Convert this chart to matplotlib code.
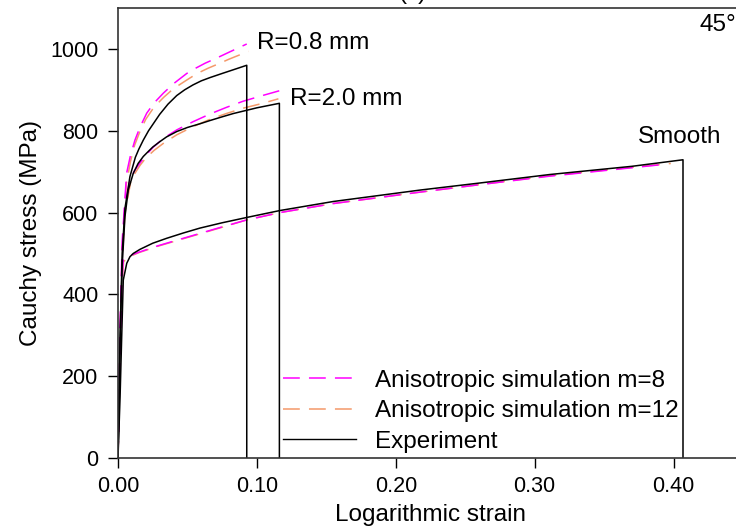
import matplotlib
matplotlib.use("Agg")
import matplotlib.pyplot as plt

plt.rcParams['font.family'] = ['Liberation Sans', 'DejaVu Sans']

# experiment, notched R=0.8 mm
exp08_strain = [0, 0.0015, 0.003, 0.005, 0.0086, 0.0125, 0.015, 0.0182, 0.022, 0.026, 0.030, 0.036, 0.0423,
                0.048, 0.054, 0.060, 0.0663, 0.075, 0.083, 0.0927, 0.0927]
exp08_stress = [0, 300, 500, 610, 688, 735, 755, 777, 800, 820, 840, 865, 886,
                900, 912, 922, 930, 940, 949, 960, 0]

# experiment, notched R=2.0 mm
exp20_strain = [0, 0.0015, 0.003, 0.005, 0.0074, 0.011, 0.0145, 0.0182, 0.022, 0.025, 0.030, 0.035, 0.0423,
                0.050, 0.059, 0.0663, 0.075, 0.083, 0.100, 0.1162, 0.1162]
exp20_stress = [0, 280, 470, 590, 655, 696, 720, 737, 750, 760, 773, 785, 798,
                808, 817, 825, 834, 842, 856, 867, 0]

# experiment, smooth
exps_strain = [0, 0.0015, 0.0026, 0.0038, 0.0063, 0.0086, 0.011, 0.0158, 0.025, 0.035, 0.047, 0.059, 0.075,
               0.0927, 0.1167, 0.155, 0.2176, 0.260, 0.311, 0.370, 0.4068, 0.4068]
exps_stress = [0, 150, 289, 435, 476, 492, 500, 510, 525, 537, 550, 562, 575,
               588, 605, 627, 655, 672, 693, 713, 729, 0]

# simulation m=8
m8_08_strain = [0, 0.0015, 0.003, 0.0062, 0.009, 0.0122, 0.016, 0.0207, 0.026, 0.0327, 0.040, 0.0495, 0.056,
                0.0627, 0.070, 0.080, 0.0927]
m8_08_stress = [0, 320, 530, 696, 740, 777, 810, 843, 868, 892, 915, 940, 953,
                965, 976, 992, 1012]
m8_20_strain = [0, 0.0015, 0.003, 0.005, 0.0086, 0.012, 0.0158, 0.020, 0.0254, 0.033, 0.0423, 0.054, 0.0663,
                0.078, 0.090, 0.104, 0.1186]
m8_20_stress = [0, 300, 500, 620, 680, 703, 721, 740, 760, 782, 802, 822, 841,
                857, 872, 886, 900]
m8_s_strain = [0, 0.0015, 0.003, 0.0038, 0.008, 0.015, 0.022, 0.028, 0.038, 0.050, 0.070, 0.0927, 0.1167,
               0.155, 0.2176, 0.260, 0.311, 0.360, 0.394]
m8_s_stress = [0, 250, 440, 484, 494, 503, 511, 518, 528, 540, 560, 582, 600,
               622, 650, 668, 689, 706, 718]

# simulation m=12
m12_08_strain = [0, 0.0015, 0.003, 0.006, 0.009, 0.012, 0.016, 0.020, 0.026, 0.033, 0.040, 0.050, 0.057,
                 0.065, 0.072, 0.080, 0.0939]
m12_08_stress = [0, 300, 510, 670, 725, 765, 800, 828, 858, 882, 903, 925, 940,
                 953, 963, 975, 994]
m12_20_strain = [0, 0.0015, 0.003, 0.005, 0.009, 0.012, 0.016, 0.020, 0.026, 0.033, 0.0423, 0.054, 0.0663,
                 0.078, 0.090, 0.103, 0.1155]
m12_20_stress = [0, 290, 480, 600, 672, 695, 716, 733, 752, 770, 790, 810, 828,
                 842, 855, 866, 878]
m12_s_strain = [0, 0.0015, 0.003, 0.004, 0.008, 0.015, 0.022, 0.028, 0.038, 0.050, 0.070, 0.0927, 0.1167,
                0.155, 0.2176, 0.260, 0.311, 0.360, 0.398]
m12_s_stress = [0, 240, 430, 480, 492, 502, 510, 517, 527, 539, 559, 582, 600,
                622, 650, 668, 690, 707, 720]

x_ticks = [0.0, 0.1, 0.2, 0.3, 0.4]
y_ticks = [0, 200, 400, 600, 800, 1000]

magenta = '#FF00FF'
orange = '#F4996A'
dash = (11, 6)
big = 17.5

fig = plt.figure(figsize=(7.36, 5.30), dpi=100)
ax = fig.add_axes([118 / 736, 72 / 530, 625 / 736, 450 / 530])

for s, v in [(m12_08_strain, m12_08_stress), (m12_20_strain, m12_20_stress), (m12_s_strain, m12_s_stress)]:
    ax.plot(s, v, color=orange, lw=1.1, dashes=dash)
for s, v in [(m8_08_strain, m8_08_stress), (m8_20_strain, m8_20_stress), (m8_s_strain, m8_s_stress)]:
    ax.plot(s, v, color=magenta, lw=1.1, dashes=dash)
for s, v in [(exp08_strain, exp08_stress), (exp20_strain, exp20_stress), (exps_strain, exps_stress)]:
    ax.plot(s, v, color='black', lw=1.1)

# legend proxies
h8, = ax.plot([], [], color=magenta, lw=1.1, dashes=dash)
h12, = ax.plot([], [], color=orange, lw=1.1, dashes=dash)
hex_, = ax.plot([], [], color='black', lw=1.0)
ax.legend([h8, h12, hex_],
          ['Anisotropic simulation m=8', 'Anisotropic simulation m=12', 'Experiment'],
          loc='upper left', bbox_to_anchor=(0.264, 0.196), frameon=False,
          fontsize=big, handlelength=3.0, handletextpad=0.8, labelspacing=0.35,
          borderpad=0, borderaxespad=0)

ax.text(0.1, 1015, 'R=0.8 mm', fontsize=big, va='center')
ax.text(0.124, 878, 'R=2.0 mm', fontsize=big, va='center')
ax.text(0.3746, 785, 'Smooth', fontsize=big, va='center')
ax.text(0.419, 1059, '45°', fontsize=big, va='center')
fig.text(413 / 736, 1 + 1 / 530, '(c)', fontsize=big, ha='center', va='baseline')

ax.set_xlim(0, 0.45)
ax.set_ylim(0, 1100)
ax.set_xticks(x_ticks)
ax.set_xticklabels(['%.2f' % t for t in x_ticks])
ax.set_yticks(y_ticks)
ax.tick_params(labelsize=15.5, length=7, width=1, direction='out')
ax.tick_params(axis='y', pad=7)
ax.tick_params(axis='x', pad=6)
ax.spines['right'].set_visible(False)
for sp in ['left', 'bottom', 'top']:
    ax.spines[sp].set_color('#333333')
    ax.spines[sp].set_linewidth(1.2)

ax.set_xlabel('Logarithmic strain', fontsize=big, labelpad=5)
ax.set_ylabel('Cauchy stress (MPa)', fontsize=big, labelpad=6)

fig.savefig('out.png', dpi=100)
